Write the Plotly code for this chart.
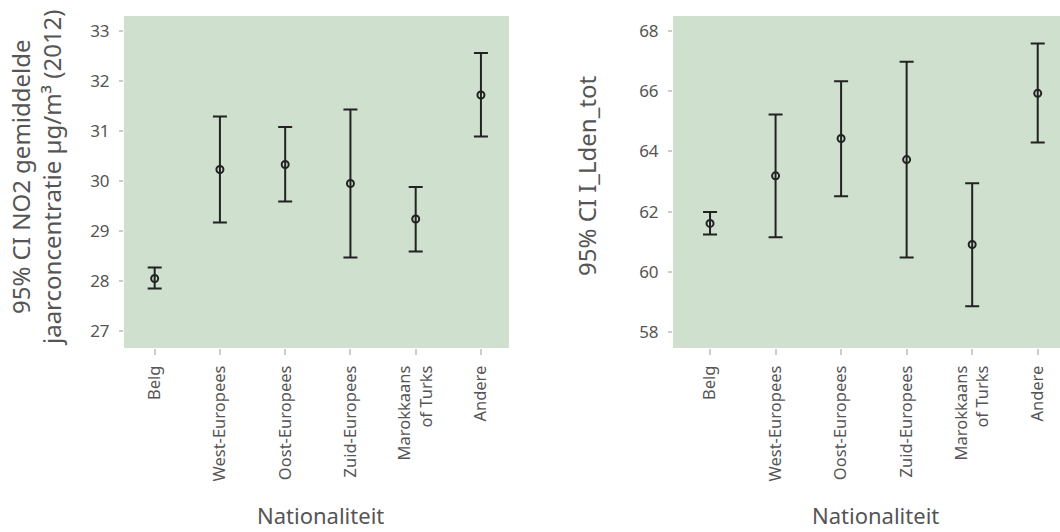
import plotly.graph_objects as go

categories = ["Belg", "West-Europees", "Oost-Europees", "Zuid-Europees", "Marokkaans<br>of Turks", "Andere"]

no2_mean = [28.05, 30.23, 30.33, 29.95, 29.24, 31.72]
no2_lower = [27.85, 29.17, 29.59, 28.47, 28.59, 30.89]
no2_upper = [28.27, 31.29, 31.08, 31.43, 29.88, 32.56]

lden_mean = [61.61, 63.19, 64.43, 63.73, 60.91, 65.93]
lden_lower = [61.24, 61.15, 62.51, 60.48, 58.86, 64.30]
lden_upper = [61.99, 65.23, 66.33, 66.98, 62.94, 67.59]

W, H = 1060, 532
FONT = "Noto Sans"
TXT = "#555555"
INK = "#222222"
BG = "#cfe0ce"
PLOT_TOP, PLOT_BOT = 16, 348

xpos = list(range(len(categories)))


def trace(mean, lo, hi, xa, ya):
    return go.Scatter(
        x=xpos, y=mean, xaxis=xa, yaxis=ya, mode="markers",
        marker=dict(symbol="circle-open", size=7, color=INK, line=dict(width=2, color=INK)),
        error_y=dict(type="data", symmetric=False,
                     array=[h - m for h, m in zip(hi, mean)],
                     arrayminus=[m - l for m, l in zip(mean, lo)],
                     color=INK, thickness=2, width=7),
        showlegend=False, hoverinfo="skip")


def py(pix):
    return (PLOT_BOT - pix) / (PLOT_BOT - PLOT_TOP)


fig = go.Figure()
fig.add_trace(trace(no2_mean, no2_lower, no2_upper, "x", "y"))
fig.add_trace(trace(lden_mean, lden_lower, lden_upper, "x2", "y2"))

xcommon = dict(tickmode="array", tickvals=xpos, ticktext=categories, tickangle=-90,
               showgrid=False, zeroline=False, showline=False,
               ticks="outside", ticklen=6, tickwidth=2, tickcolor="#cccccc",
               tickfont=dict(family=FONT, size=16.5, color=TXT), ticklabelstandoff=4)
ycommon = dict(showgrid=False, zeroline=False, showline=False,
               ticks="outside", ticklen=4, tickwidth=2, tickcolor="#cccccc",
               tickfont=dict(family=FONT, size=17, color=TXT), ticklabelstandoff=6)

title_font = dict(family=FONT, size=24, color=TXT)
xtitle_font = dict(family=FONT, size=22, color=TXT)

fig.update_layout(
    width=W, height=H,
    margin=dict(l=0, r=0, t=PLOT_TOP, b=H - PLOT_BOT),
    paper_bgcolor="white", plot_bgcolor=BG,
    xaxis=dict(domain=[124 / W, 509 / W], range=[-0.47, 5.43], anchor="y", **xcommon),
    yaxis=dict(domain=[0, 1], range=[26.66, 33.3], anchor="x", tickvals=[27, 28, 29, 30, 31, 32, 33], **ycommon),
    xaxis2=dict(domain=[673 / W, 1.0], range=[-0.565, 5.34], anchor="y2", **xcommon),
    yaxis2=dict(domain=[0, 1], range=[57.47, 68.5], anchor="x2", tickvals=[58, 60, 62, 64, 66, 68], **ycommon),
    annotations=[
        dict(text="95% CI NO2 gemiddelde<br>jaarconcentratie µg/m³ (2012)", textangle=-90,
             x=36 / W, y=py(178), xref="paper", yref="paper", xanchor="center", yanchor="middle",
             showarrow=False, font=title_font),
        dict(text="95% CI I_Lden_tot", textangle=-90,
             x=586 / W, y=py(176), xref="paper", yref="paper", xanchor="center", yanchor="middle",
             showarrow=False, font=title_font),
        dict(text="Nationaliteit", x=320 / W, y=py(531), xref="paper", yref="paper",
             xanchor="center", yanchor="bottom", showarrow=False, borderpad=0,
             font=xtitle_font),
        dict(text="Nationaliteit", x=875 / W, y=py(531), xref="paper", yref="paper",
             xanchor="center", yanchor="bottom", showarrow=False, borderpad=0,
             font=xtitle_font),
    ],
)

fig.write_html("out.html")
